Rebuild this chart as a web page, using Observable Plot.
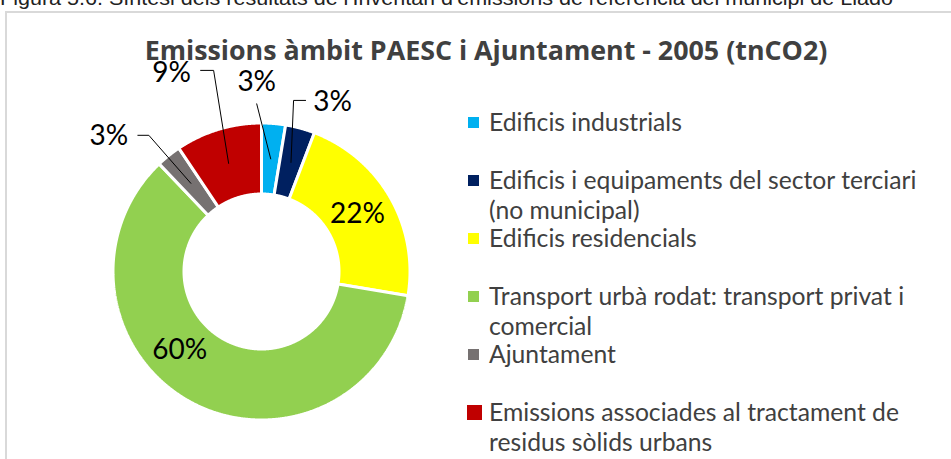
<!DOCTYPE html>
<html>
<head>
<meta charset="utf-8">
<script src="https://cdn.jsdelivr.net/npm/d3@7"></script>
<script src="https://cdn.jsdelivr.net/npm/@observablehq/plot@0.6"></script>
<style>
  html, body { margin:0; padding:0; background:#fff; }
  #fig { position:relative; width:951px; height:459px; overflow:hidden; background:#fff; }
  #caption { position:absolute; left:0; top:-13px; white-space:nowrap; font-family:"Liberation Sans Narrow","Liberation Sans",Arial,sans-serif; font-size:20px; color:#222; transform-origin:0 0; line-height:normal; }
  #box { position:absolute; left:5px; top:11px; width:1000px; height:500px; border:2px solid #d9d9d9; box-sizing:border-box; }
  #title { position:absolute; left:486px; top:50px; transform:translate(-50%,-50%); font-family:"Open Sans",Lato,sans-serif; font-weight:700; font-size:23px; line-height:1; color:#404040; white-space:nowrap; }
  #chart { position:absolute; left:0; top:0; }
  #legend { position:absolute; left:466px; top:107px; font-family:Lato,sans-serif; font-size:24.7px; color:#404040; }
  .item { position:relative; height:58px; padding-left:23px; line-height:30px; width:438px; }
  .sw { position:absolute; left:2px; top:10px; width:11px; height:11px; }
  .item.big .sw { left:1px; top:8px; width:15px; height:15px; }
</style>
</head>
<body>
<div id="fig">
  <div id="caption">Figura 5.6. Síntesi dels resultats de l'Inventari d'emissions de referència del municipi de Lladó</div>
  <div id="box"></div>
  <div id="title">Emissions àmbit PAESC i Ajuntament - 2005 (tnCO2)</div>
  <div id="chart"></div>
  <div id="legend"></div>
</div>
<script>
// ---- data ----
const categories = [
  "Edificis industrials",
  "Edificis i equipaments del sector terciari (no municipal)",
  "Edificis residencials",
  "Transport urbà rodat: transport privat i comercial",
  "Ajuntament",
  "Emissions associades al tractament de residus sòlids urbans"
];
const values = [2.6, 3.2, 21.8, 60.3, 2.7, 9.4];   // share of tnCO2 (%)
const labels = ["3%", "3%", "22%", "60%", "3%", "9%"];
const colors = ["#00B0F0", "#002060", "#FFFF00", "#92D050", "#767171", "#C00000"];

// ---- layout ----
const W = 460, H = 459;
const cx = 261, cy = 271;      // donut centre (px)
const K = 148.5;               // px per unit radius
const innerRatio = 77.5 / 148.5;
const midR = 113 / K;

// label nudges from slice centroid (px, y down) and leader elbows (px from label centre)
const labelNudge = [[-14, -77], [41.6, -60], [-2, -1], [-29, -21], [-82, -47], [-57, -90]];
const leaderPts = [[[0, 22]], [[-27, -2], [-39, -2]], [], [], [[29, -1], [40, -1]], [[29, -3], [42, -3]]];

const rows = categories.map((c, i) => ({category: c, value: values[i], label: labels[i]}));
const arcs = d3.pie().sort(null).value(d => d.value)(rows);

const ring = [];
for (const a of arcs) {
  const n = Math.max(2, Math.ceil((a.endAngle - a.startAngle) / (Math.PI / 720)));
  const at = j => a.startAngle + (a.endAngle - a.startAngle) * j / n;
  for (let j = 0; j <= n; j++) ring.push({category: a.data.category, x: Math.sin(at(j)), y: Math.cos(at(j))});
  for (let j = n; j >= 0; j--) ring.push({category: a.data.category, x: innerRatio * Math.sin(at(j)), y: innerRatio * Math.cos(at(j))});
}

const labelRows = [];
const leaders = [];
arcs.forEach((a, i) => {
  const m = (a.startAngle + a.endAngle) / 2;
  const ax = midR * Math.sin(m), ay = midR * Math.cos(m);
  const lx = ax + labelNudge[i][0] / K, ly = ay - labelNudge[i][1] / K;
  labelRows.push({category: a.data.category, label: a.data.label, x: lx, y: ly});
  if (leaderPts[i].length) {
    for (const p of leaderPts[i]) leaders.push({category: a.data.category, x: lx + p[0] / K, y: ly - p[1] / K});
    leaders.push({category: a.data.category, x: ax, y: ay});
  }
});

const chart = Plot.plot({
  width: W, height: H,
  marginLeft: cx - K, marginRight: W - cx - K,
  marginTop: cy - K, marginBottom: H - cy - K,
  x: {domain: [-1, 1], axis: null},
  y: {domain: [-1, 1], axis: null},
  color: {domain: categories, range: colors},
  style: {background: "transparent", fontFamily: "Lato, sans-serif", overflow: "visible"},
  marks: [
    Plot.line(ring, {x: "x", y: "y", z: "category", fill: "category", stroke: "white", strokeWidth: 3, curve: "linear-closed", strokeLinejoin: "miter"}),
    Plot.line(leaders, {x: "x", y: "y", z: "category", stroke: "black", strokeWidth: 1}),
    Plot.text(labelRows, {x: "x", y: "y", text: "label", fontSize: 28, fill: "black", fontFamily: "Lato, sans-serif"})
  ]
});
document.getElementById("chart").appendChild(chart);

// ---- legend ----
const legend = d3.select("#legend");
categories.forEach((c, i) => {
  const it = legend.append("div").attr("class", "item" + (i === categories.length - 1 ? " big" : ""));
  it.append("span").attr("class", "sw").style("background", colors[i]);
  it.append("span").text(c);
});

// ---- fit caption and title widths ----
const cap = document.getElementById("caption");
cap.style.transform = `scaleX(${893 / cap.getBoundingClientRect().width})`;
const title = document.getElementById("title");
const tw = title.getBoundingClientRect().width;
title.style.fontSize = (23 * 683 / tw) + "px";
</script>
</body>
</html>
